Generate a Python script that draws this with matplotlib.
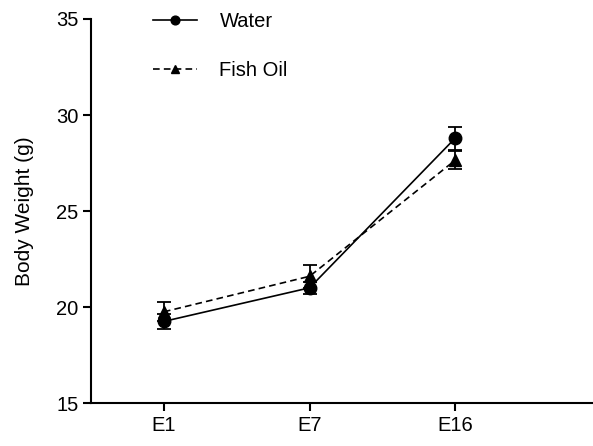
import matplotlib
matplotlib.use("Agg")
import matplotlib.pyplot as plt
import numpy as np

plt.rcParams['font.family'] = ['Liberation Sans', 'DejaVu Sans']

days = ['E1', 'E7', 'E16']
water = [19.25, 21.0, 28.8]
water_sem = [0.4, 0.3, 0.6]
fish_oil = [19.75, 21.6, 27.65]
fish_oil_sem = [0.5, 0.6, 0.45]

x = np.arange(len(days))

fig = plt.figure(figsize=(5.93, 4.46), dpi=100)
ax = fig.add_axes([0.1535, 0.0964, 0.8465, 0.8610])

ax.errorbar(x, water, yerr=water_sem, color='black', lw=1.2, marker='o',
            markersize=9, capsize=5, capthick=1.3, elinewidth=1.3, label='Water')
ax.errorbar(x, fish_oil, yerr=fish_oil_sem, color='black', lw=1.2, marker='^',
            markersize=8, capsize=5, capthick=1.3, elinewidth=1.3,
            linestyle=(0, (4, 2.5)), label='Fish Oil')

ax.set_xlim(-0.5, 2.945)
ax.set_ylim(15, 35)
ax.set_yticks([15, 20, 25, 30, 35])
ax.set_xticks(x)
ax.set_xticklabels(days)
ax.set_ylabel('Body Weight (g)', fontsize=15, labelpad=16)

for side in ['top', 'right']:
    ax.spines[side].set_visible(False)
for side in ['left', 'bottom']:
    ax.spines[side].set_linewidth(1.5)
ax.tick_params(direction='out', length=6, width=1.5, labelsize=14.5, pad=3)

handles, labels = ax.get_legend_handles_labels()
handles = [h[0] for h in handles]
ax.legend(handles, labels, frameon=False, loc='upper left',
          bbox_to_anchor=(0.258, 0.972), bbox_transform=fig.transFigure,
          fontsize=14.5, handlelength=2.2, handletextpad=1.1,
          labelspacing=1.45, borderpad=0, borderaxespad=0, markerscale=0.7)

fig.savefig('out.png', dpi=100)
